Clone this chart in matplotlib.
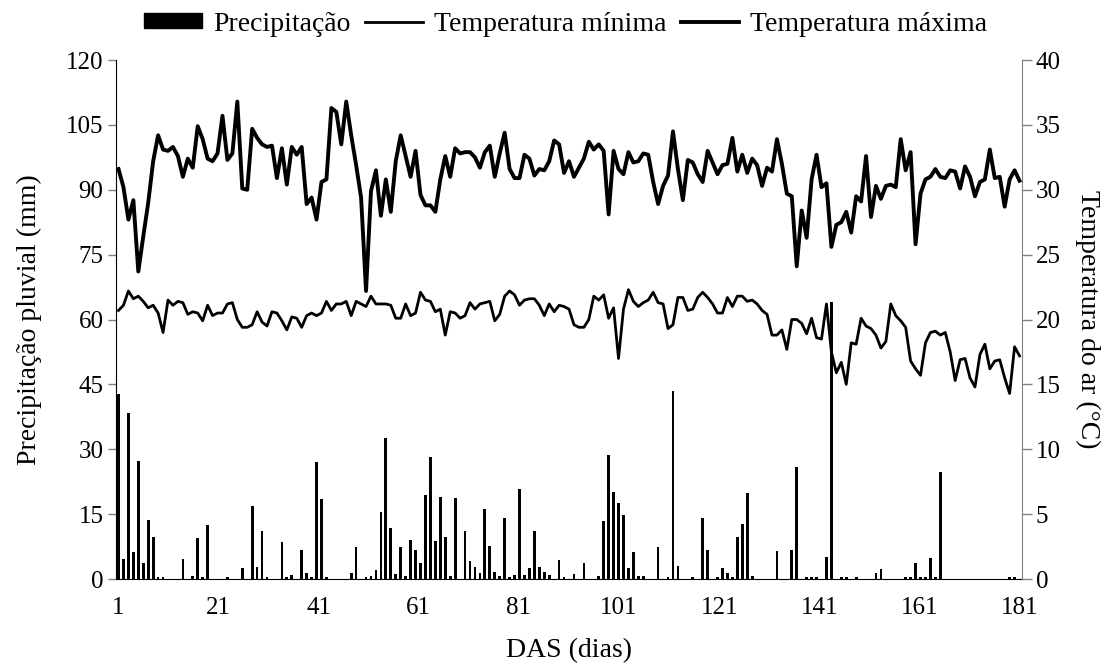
import numpy as np
import matplotlib
matplotlib.use("Agg")
import matplotlib.pyplot as plt
from matplotlib.patches import Patch
from matplotlib.lines import Line2D

plt.rcParams["font.family"] = ["Liberation Serif", "DejaVu Serif"]
plt.rcParams["font.size"] = 18

# daily maximum temperature (°C), one value per day of the record
temp_max = [
    31.6, 30.2, 27.7, 29.2, 23.7, 26.4, 29.0, 32.2, 34.2, 33.1,
    33.0, 33.3, 32.6, 31.0, 32.4, 31.7, 34.9, 33.9, 32.4, 32.2,
    32.8, 35.7, 32.3, 32.8, 36.8, 30.1, 30.0, 34.7, 34.0, 33.5,
    33.3, 33.4, 30.9, 33.2, 30.4, 33.3, 32.7, 33.3, 28.9, 29.4,
    27.7, 30.6, 30.8, 36.3, 36.0, 33.5, 36.8, 34.2, 31.9, 29.4,
    22.2, 29.9, 31.5, 28.0, 30.8, 28.3, 32.2, 34.2, 32.6, 31.0,
    33.0, 29.6, 28.8, 28.8, 28.3, 30.8, 32.6, 31.0, 33.2, 32.8,
    32.9, 32.9, 32.5, 31.7, 32.9, 33.4, 31.0, 32.8, 34.4, 31.6,
    30.9, 30.9, 32.7, 32.4, 31.1, 31.6, 31.5, 32.2, 33.8, 33.5,
    31.3, 32.2, 31.0, 31.7, 32.4, 33.7, 33.1, 33.5, 33.0, 28.1,
    33.0, 31.6, 31.2, 32.9, 32.1, 32.2, 32.8, 32.7, 30.6, 28.9,
    30.3, 31.1, 34.5, 31.6, 29.2, 32.3, 32.1, 31.2, 30.6, 33.0,
    32.1, 31.2, 31.9, 32.0, 34.0, 31.4, 32.7, 31.3, 32.4, 31.9,
    30.3, 31.7, 31.4, 33.9, 32.0, 29.7, 29.5, 24.1, 28.4, 26.3,
    30.8, 32.7, 30.2, 30.5, 25.6, 27.3, 27.5, 28.3, 26.7, 29.5,
    29.1, 32.6, 27.9, 30.3, 29.3, 30.3, 30.4, 30.2, 33.9, 31.5,
    32.9, 25.8, 29.7, 30.8, 31.0, 31.6, 31.0, 30.9, 31.5, 31.4,
    30.1, 31.8, 31.0, 29.5, 30.6, 30.8, 33.1, 30.9, 31.0, 28.7,
    30.8, 31.5, 30.7,
]

# daily minimum temperature (°C)
temp_min = [
    20.7, 21.1, 22.2, 21.6, 21.8, 21.4, 20.9, 21.1, 20.5, 19.0,
    21.5, 21.1, 21.4, 21.3, 20.4, 20.6, 20.5, 19.9, 21.1, 20.3,
    20.5, 20.5, 21.2, 21.3, 20.0, 19.4, 19.4, 19.6, 20.6, 19.8,
    19.5, 20.6, 20.5, 19.9, 19.2, 20.2, 20.1, 19.4, 20.3, 20.5,
    20.3, 20.5, 21.4, 20.7, 21.2, 21.2, 21.4, 20.3, 21.4, 21.2,
    21.0, 21.8, 21.2, 21.2, 21.2, 21.1, 20.1, 20.1, 21.2, 20.3,
    20.5, 22.1, 21.5, 21.4, 20.6, 20.8, 18.8, 20.6, 20.5, 20.1,
    20.3, 21.3, 20.8, 21.2, 21.3, 21.4, 19.9, 20.4, 21.8, 22.2,
    21.9, 21.1, 21.5, 21.6, 21.6, 21.1, 20.3, 21.2, 20.6, 21.1,
    21.0, 20.8, 19.6, 19.4, 19.4, 20.0, 21.8, 21.5, 21.9, 20.1,
    20.9, 17.0, 20.8, 22.3, 21.4, 21.0, 21.3, 21.5, 22.1, 21.3,
    21.2, 19.3, 19.6, 21.7, 21.7, 20.7, 20.8, 21.7, 22.1, 21.7,
    21.2, 20.5, 20.5, 21.7, 21.0, 21.8, 21.8, 21.4, 21.5, 21.2,
    20.7, 20.4, 18.8, 18.8, 19.2, 17.7, 20.0, 20.0, 19.7, 18.9,
    20.1, 18.6, 18.5, 21.2, 17.5, 15.9, 16.7, 15.0, 18.2, 18.1,
    20.1, 19.5, 19.3, 18.8, 17.8, 18.3, 21.2, 20.3, 19.9, 19.4,
    16.8, 16.2, 15.7, 18.2, 19.0, 19.1, 18.8, 19.0, 17.5, 15.3,
    16.9, 17.0, 15.5, 14.8, 17.3, 18.1, 16.2, 16.8, 16.9, 15.5,
    14.3, 17.9, 17.2,
]

# rainy days (position in the record) and rainfall (mm)
rain_days = [
    1, 2, 3, 4, 5, 6, 7, 8, 9, 10, 14, 16, 17, 18, 19, 23, 26, 28, 29, 30,
    31, 34, 35, 36, 38, 39, 40, 41, 42, 43, 48, 49, 51, 52, 53, 54, 55, 56,
    57, 58, 59, 60, 61, 62, 63, 64, 65, 66, 67, 68, 69, 71, 72, 73, 74, 75,
    76, 77, 78, 79, 80, 81, 82, 83, 84, 85, 86, 87, 88, 90, 91, 93, 95, 98,
    99, 100, 101, 102, 103, 104, 105, 106, 107, 110, 112, 113, 114, 117,
    119, 120, 122, 123, 124, 125, 126, 127, 128, 129, 134, 137, 138, 140,
    141, 142, 144, 145, 147, 148, 150, 154, 155, 160, 161, 162, 163, 164,
    165, 166, 167, 181, 182,
]
rain_mm = [
    42.7, 4.6, 38.3, 6.3, 27.3, 3.8, 13.6, 9.8, 0.5, 0.5, 4.6, 0.8, 9.4, 0.5,
    12.6, 0.4, 2.5, 16.9, 2.8, 11.0,
    0.4, 8.5, 0.5, 1.0, 6.6, 1.4, 0.4, 27.1, 18.6, 0.4, 1.5, 7.4, 0.4, 0.6,
    2.0, 15.6, 32.7, 11.8,
    1.2, 7.4, 0.6, 9.0, 6.8, 3.6, 19.4, 28.3, 8.8, 18.9, 9.8, 0.8, 18.8,
    11.2, 4.1, 2.8, 1.4, 16.3,
    7.6, 1.6, 0.8, 14.2, 0.5, 1.0, 20.8, 1.0, 2.5, 11.0, 2.8, 1.6, 1.0, 4.4,
    0.5, 1.2, 3.8, 0.8,
    13.3, 28.7, 20.2, 17.5, 14.9, 2.5, 6.2, 0.8, 0.8, 7.3, 0.4, 43.5, 2.9, 0.4,
    14.2, 6.8, 0.4, 2.5, 1.3, 0.4, 9.6, 12.8, 20.0, 0.6, 6.5, 6.8, 25.9, 0.4,
    0.4, 0.4, 5.2, 64.0, 0.4, 0.4, 0.4, 1.5, 2.2, 0.4, 0.4, 3.8, 0.4, 0.4,
    4.8, 0.4, 24.8, 0.4, 0.4,
]

# DAS labels shown on the x axis (spread over the whole record)
das_labels = [1, 21, 41, 61, 81, 101, 121, 141, 161, 181]

n_days = len(temp_max)
day = np.arange(1, n_days + 1)
rain = np.zeros(n_days)
rain[np.array(rain_days) - 1] = rain_mm

fig = plt.figure(figsize=(11.2, 6.7), dpi=100)
ax = fig.add_axes([0.1036, 0.1358, 0.8089, 0.7746])
ax2 = ax.twinx()

ax.bar(day, rain, width=0.55, color="black", zorder=2)
ax2.plot(day, temp_min, color="black", lw=2.0, zorder=3)
ax2.plot(day, temp_max, color="black", lw=2.8, zorder=3)

ax.set_xlim(0.5, n_days + 0.5)
ax.set_ylim(0, 120)
ax.set_yticks(np.arange(0, 121, 15))
ax2.set_ylim(0, 40)
ax2.set_yticks(np.arange(0, 41, 5))

# DAS scale runs from the first to the last day of the record
tick_pos = np.interp(das_labels, [das_labels[0], das_labels[-1]], [1, n_days])
ax.set_xticks(tick_pos)
ax.set_xticklabels([str(t) for t in das_labels])

ax.set_xlabel("DAS (dias)", fontsize=20, labelpad=14)
ax.set_ylabel("Precipitação pluvial (mm)", fontsize=20, labelpad=17)
ax2.set_ylabel("Temperatura do ar (°C)", fontsize=20, rotation=-90, labelpad=28)

for a in (ax, ax2):
    a.spines["top"].set_visible(False)
ax.spines["right"].set_visible(False)
ax2.spines["left"].set_visible(False)
ax2.spines["bottom"].set_visible(False)
ax2.spines["right"].set_color("#808080")
ax.spines["left"].set_color("black")
ax.tick_params(axis="y", direction="out", length=6, width=1, color="#808080", pad=3)
ax.tick_params(axis="x", length=0, pad=13)
ax2.tick_params(axis="y", direction="out", length=7, width=1, color="#808080", pad=3)

handles = [
    Patch(facecolor="black", edgecolor="black"),
    Line2D([], [], color="black", lw=2.0),
    Line2D([], [], color="black", lw=2.8),
]
labels = ["Precipitação", "Temperatura mínima", "Temperatura máxima"]
fig.legend(handles, labels, loc="upper center", bbox_to_anchor=(0.505, 1.02),
           ncol=3, frameon=False, fontsize=20, handlelength=2.1, handleheight=0.45,
           columnspacing=0.5, handletextpad=0.4)

fig.savefig("out.png", dpi=100)
